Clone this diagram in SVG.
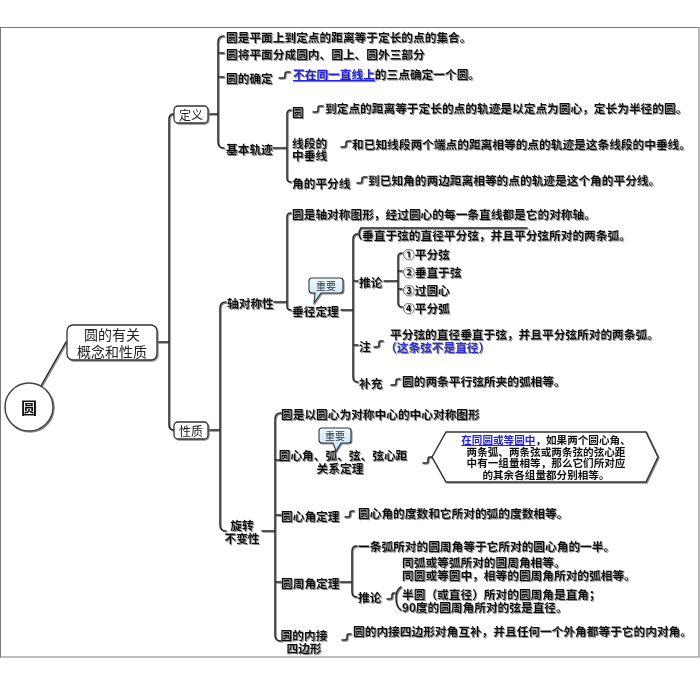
<svg xmlns="http://www.w3.org/2000/svg" width="700" height="685" viewBox="0 0 700 685">
<defs>
<filter id="sh" x="-10%" y="-30%" width="125%" height="170%">
<feDropShadow dx="1" dy="1" stdDeviation="0.6" flood-color="#777" flood-opacity="0.85"/>
</filter>
<linearGradient id="callg" x1="0" y1="0" x2="0" y2="1">
<stop offset="0" stop-color="#eef8fd"/>
<stop offset="1" stop-color="#bfe3f3"/>
</linearGradient>
<style>
.t{font-family:"Noto Sans CJK SC","Noto Sans",sans-serif;font-size:11.7px;font-weight:bold;fill:#111;dominant-baseline:central}
.h{font-size:10.6px;text-anchor:middle}
.m{text-anchor:middle}
.lk{fill:#2020d8;text-decoration:underline}
.bl{fill:#3030c8}
.bx{font-family:"Noto Sans CJK SC","Noto Sans",sans-serif;fill:#222;dominant-baseline:central;text-anchor:middle}
.box{fill:#fff;stroke:#333;stroke-width:1.3}
.c{fill:none;stroke:#222;stroke-width:1.5;stroke-linecap:round}
.call{fill:url(#callg);stroke:#334;stroke-width:1.1}
.ct{font-family:"Noto Sans CJK SC","Noto Sans",sans-serif;font-size:10px;fill:#334;dominant-baseline:central;text-anchor:middle}
</style>
</defs>
<rect x="0.5" y="27.5" width="698.5" height="629.5" fill="#fff" stroke="#777" stroke-width="1"/>

<g id="connectors" filter="url(#sh)">
<path class="c" d="M41,386 L66,342"/>
<path class="c" d="M157,342 H169 M174,114 Q169,114 169,119 V425 Q169,430 174,430"/>
<path class="c" d="M208,114 H218 M224,36 Q218,36 218,42 V142 Q218,148 224,148 M218,53 H224 M218,77 H224"/>
<path class="c" d="M279,78 h4 q2,0 2,-2 v-2 q0,-2 2,-2 h3"/>
<path class="c" d="M273,148 H287 M291,110 Q287,110 287,114 V178 Q287,182 291,182"/>
<path class="c" d="M313,112 h3 q2,0 2,-2 v-2 q0,-2 2,-2 h3"/>
<path class="c" d="M341,147 h3 q2,0 2,-2 v-2 q0,-2 2,-2 h3"/>
<path class="c" d="M357,183 h3 q2,0 2,-2 v-2 q0,-2 2,-2 h3"/>
<path class="c" d="M208,430 H220 M226,302 Q220,302 220,308 V525 Q220,531 226,531"/>
<path class="c" d="M274,302 H287 M291,213 Q287,213 287,217 V306 Q287,310 291,310"/>
<path class="c" d="M341,310 H353 M358,234 Q353,234 353,239 V377 Q353,382 358,382 M353,281 H358 M353,345 H358"/>
<path class="c" d="M361,239 Q357,234 361,228 H527"/>
<path class="c" d="M384,281 H398 M402,253 Q398,253 398,257 V303 Q398,307 402,307 M398,271 H402 M398,289 H402"/>
<path class="c" d="M374,347 h3 q2,0 2,-2 v-2 q0,-2 2,-2 h2"/>
<path class="c" d="M391,385 h3 q2,0 2,-2 v-2 q0,-2 2,-2 h2"/>
<path class="c" d="M262,531 H275 M281,413 Q275,413 275,419 V635 Q275,641 281,641 M275,460 H281 M275,515 H281 M275,582 H281"/>
<path class="c" d="M423,463 h3 q2,0 2,-2 v-2 q0,-2 2,-2 h2"/>
<path class="c" d="M345,517 h3 q2,0 2,-2 v-2 q0,-2 2,-2 h2"/>
<path class="c" d="M340,582 H352 M357,546 Q352,546 352,551 V592 Q352,597 357,597"/>
<path class="c" d="M387,599 h3 q2,0 2,-2 v-2 q0,-2 2,-2 h1"/>
<path class="c" d="M401,587 Q396,590 396,598 Q396,607 401,610"/>
<path class="c" d="M342,640 h3 q2,0 2,-2 v-2 q0,-2 2,-2 h2"/>
</g>

<g id="n-root" filter="url(#sh)">
<circle cx="29" cy="407" r="24" fill="#fff" stroke="#444" stroke-width="1.5"/>
<text class="t" x="29" y="407" style="font-size:16px;text-anchor:middle">圆</text>
</g>
<g id="n-main" filter="url(#sh)">
<rect class="box" x="67" y="325" width="90" height="35" rx="6"/>
<text class="bx" x="112" y="334" style="font-size:14px">圆的有关<tspan x="112" dy="17">概念和性质</tspan></text>
</g>
<g id="n-def" filter="url(#sh)">
<rect class="box" x="174" y="106" width="34" height="17" rx="4"/>
<text class="bx" x="191" y="114.5" style="font-size:12px">定义</text>
</g>
<g id="n-prop" filter="url(#sh)">
<rect class="box" x="174" y="422" width="34" height="17" rx="4"/>
<text class="bx" x="191" y="430.5" style="font-size:12px">性质</text>
</g>

<g filter="url(#sh)">
<g id="n-d1"><text class="t" x="226" y="36">圆是平面上到定点的距离等于定长的点的集合。</text></g>
<g id="n-d2"><text class="t" x="226" y="53">圆将平面分成圆内、圆上、圆外三部分</text></g>
<g id="n-d3"><text class="t" x="226" y="77">圆的确定</text></g>
<g id="n-d3a"><text class="t" x="293" y="73"><tspan class="lk">不在同一直线上</tspan>的三点确定一个圆。</text></g>
<g id="n-d4"><text class="t" x="226" y="148">基本轨迹</text></g>
<g id="n-d4a"><text class="t" x="292" y="111">圆</text></g>
<g id="n-d4a1"><text class="t" x="325" y="107">到定点的距离等于定长的点的轨迹是以定点为圆心，定长为半径的圆。</text></g>
<g id="n-d4b"><text class="t" x="292" y="142">线段的<tspan x="292" dy="12">中垂线</tspan></text></g>
<g id="n-d4b1"><text class="t" x="352" y="143">和已知线段两个端点的距离相等的点的轨迹是这条线段的中垂线。</text></g>
<g id="n-d4c"><text class="t" x="292" y="182">角的平分线</text></g>
<g id="n-d4c1"><text class="t" x="368" y="179">到已知角的两边距离相等的点的轨迹是这个角的平分线。</text></g>

<g id="n-p1"><text class="t" x="227" y="302">轴对称性</text></g>
<g id="n-p1a"><text class="t" x="292" y="213">圆是轴对称图形，经过圆心的每一条直线都是它的对称轴。</text></g>
<g id="n-p1b"><text class="t" x="292" y="310">垂径定理</text></g>
<g id="n-p1b1"><text class="t" x="362" y="234">垂直于弦的直径平分弦，并且平分弦所对的两条弧。</text></g>
<g id="n-p1b2"><text class="t" x="359" y="281">推论</text></g>
<g id="n-p1b2a"><text class="t" x="403" y="253">①平分弦</text></g>
<g id="n-p1b2b"><text class="t" x="403" y="271">②垂直于弦</text></g>
<g id="n-p1b2c"><text class="t" x="403" y="289">③过圆心</text></g>
<g id="n-p1b2d"><text class="t" x="403" y="307">④平分弧</text></g>
<g id="n-p1b3"><text class="t" x="359" y="345">注</text></g>
<g id="n-p1b3a"><text class="t" x="390" y="333">平分弦的直径垂直于弦，并且平分弦所对的两条弧。<tspan class="bl" x="385" dy="13">（这条弦不是直径）</tspan></text></g>
<g id="n-p1b4"><text class="t" x="359" y="382">补充</text></g>
<g id="n-p1b4a"><text class="t" x="402" y="380">圆的两条平行弦所夹的弧相等。</text></g>

<g id="n-p2"><text class="t m" x="242" y="524">旋转<tspan x="242" dy="13">不变性</tspan></text></g>
<g id="n-p2a"><text class="t" x="281" y="413">圆是以圆心为对称中心的中心对称图形</text></g>
<g id="n-p2b"><text class="t m" x="343" y="454">圆心角、弧、弦、弦心距<tspan x="340" dy="13">关系定理</tspan></text></g>
<g id="n-p2c"><text class="t" x="281" y="515">圆心角定理</text></g>
<g id="n-p2c1"><text class="t" x="358" y="512">圆心角的度数和它所对的弧的度数相等。</text></g>
<g id="n-p2d"><text class="t" x="281" y="582">圆周角定理</text></g>
<g id="n-p2d1"><text class="t" x="358" y="545">一条弧所对的圆周角等于它所对的圆心角的一半。</text></g>
<g id="n-p2d2"><text class="t" x="358" y="596">推论</text></g>
<g id="n-p2d3"><text class="t" x="402" y="561">同弧或等弧所对的圆周角相等。<tspan x="402" dy="13">同圆或等圆中，相等的圆周角所对的弧相等。</tspan></text></g>
<g id="n-p2d4"><text class="t" x="402" y="593">半圆（或直径）所对的圆周角是直角；<tspan x="402" dy="13">90度的圆周角所对的弦是直径。</tspan></text></g>
<g id="n-p2e"><text class="t m" x="304" y="634">圆的内接<tspan x="304" dy="13">四边形</tspan></text></g>
<g id="n-p2e1"><text class="t" x="353" y="630">圆的内接四边形对角互补，并且任何一个外角都等于它的内对角。</text></g>
</g>

<g id="n-hex" filter="url(#sh)">
<polygon points="432,457 446,432 646,432 658,457 646,482 446,482" fill="#fff" stroke="#333" stroke-width="1.5"/>
<text class="t h" x="546" y="439"><tspan class="lk">在同圆或等圆中</tspan>，如果两个圆心角、<tspan x="546" dy="11.5">两条弧、两条弦或两条弦的弦心距</tspan><tspan x="546" dy="11.5">中有一组量相等，那么它们所对应</tspan><tspan x="546" dy="11.5">的其余各组量都分别相等。</tspan></text>
</g>

<g id="n-imp1" filter="url(#sh)">
<path class="call" d="M312,278 H340 Q343,278 343,281 V290 Q343,293 340,293 H321 L314,303 L315,293 H312 Q309,293 309,290 V281 Q309,278 312,278 Z"/>
<text class="ct" x="326" y="285.5">重要</text>
</g>
<g id="n-imp2" filter="url(#sh)">
<path class="call" d="M322,428 H348 Q351,428 351,431 V440 Q351,443 348,443 H341 L336,451 L333,443 H322 Q319,443 319,440 V431 Q319,428 322,428 Z"/>
<text class="ct" x="335" y="435.5">重要</text>
</g>
</svg>
